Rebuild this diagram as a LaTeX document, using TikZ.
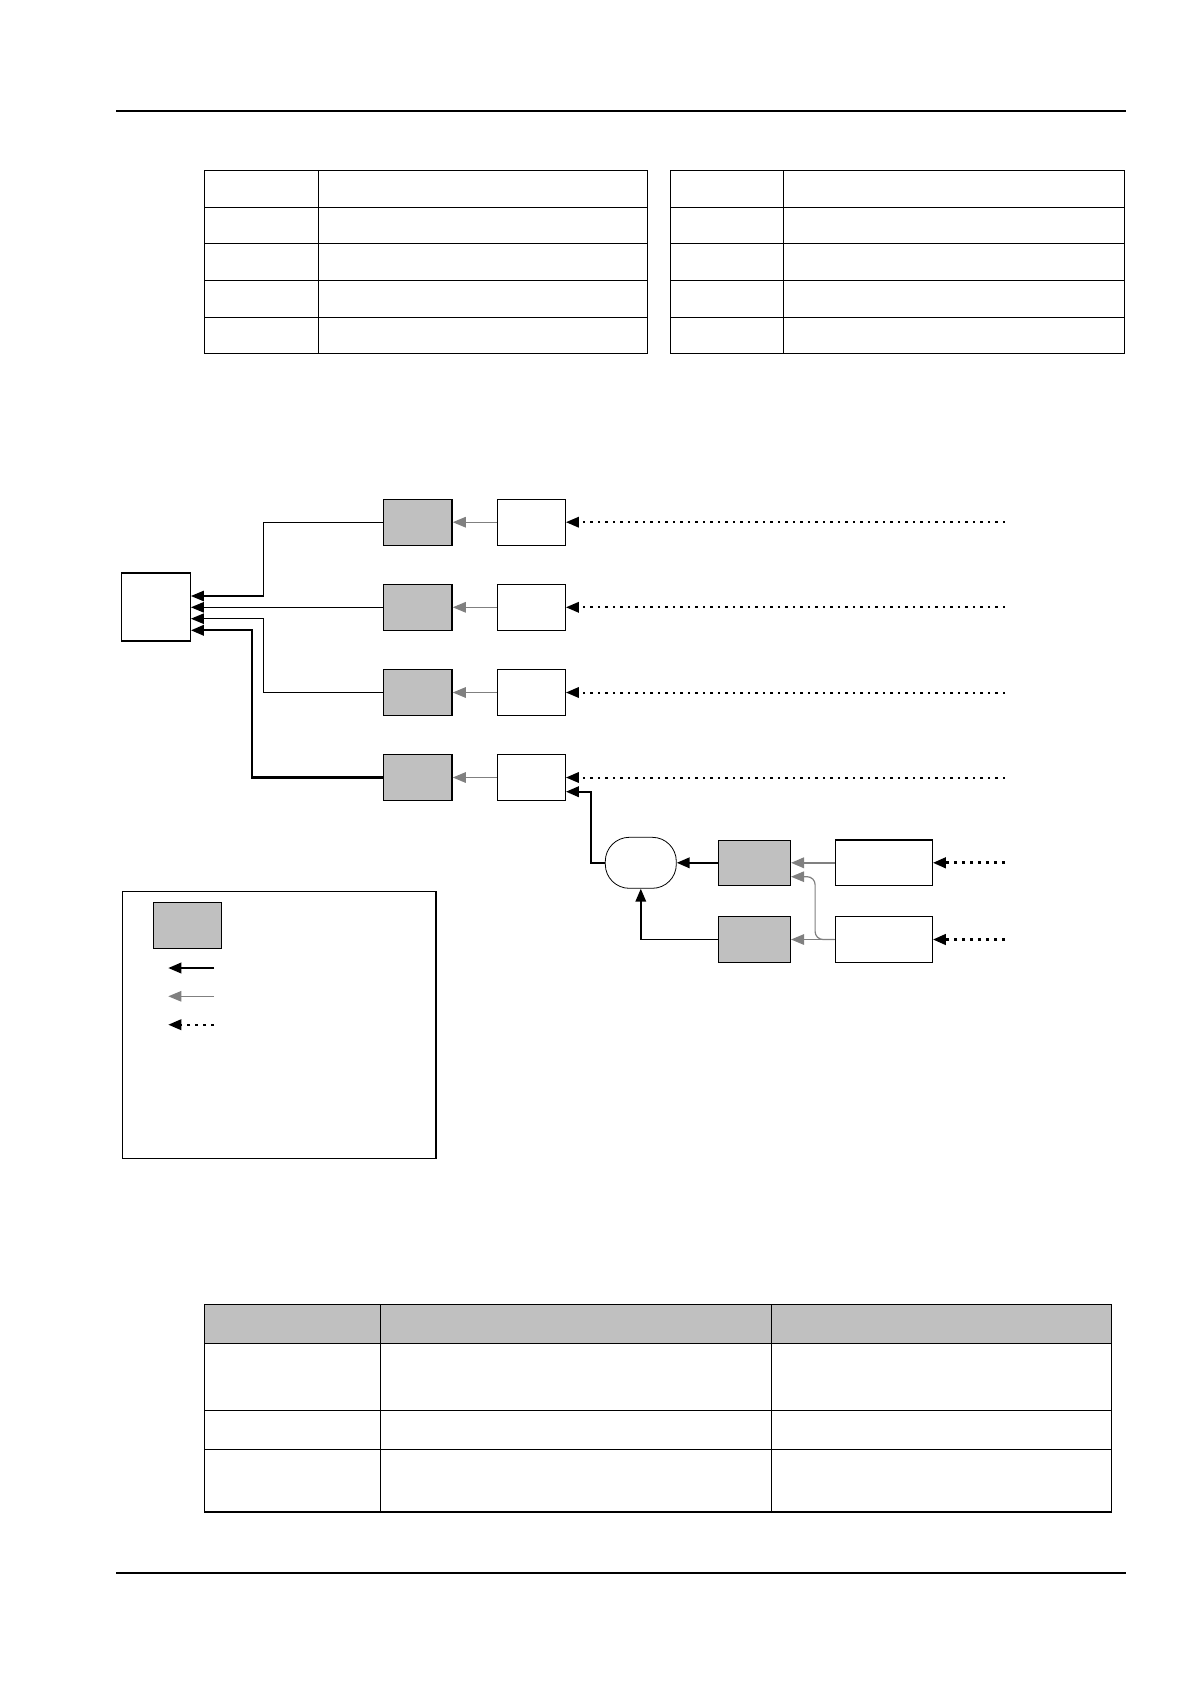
\documentclass[tikz,border=0pt]{standalone}
\usetikzlibrary{arrows.meta}
\definecolor{boxgray}{HTML}{C0C0C0}
\definecolor{arrgray}{HTML}{808080}
\begin{document}
\begin{tikzpicture}[x=1pt,y=-1pt,
  gbox/.style={draw=black,fill=boxgray,line width=1.4pt,minimum width=68.7pt,minimum height=46pt,inner sep=0pt},
  wbox/.style={draw=black,fill=white,line width=1.3pt,minimum width=68pt,minimum height=46pt,inner sep=0pt},
  wwide/.style={draw=black,fill=white,line width=1.2pt,minimum width=97pt,minimum height=45.5pt,inner sep=0pt},
  tip/.style={-{Triangle[length=13pt,width=10.5pt]}},
  blk/.style={tip,draw=black,line width=1.2pt},
  blkthick/.style={tip,draw=black,line width=2.2pt},
  gry/.style={-{Triangle[length=13pt,width=10.5pt]},draw=arrgray,color=arrgray,line width=1.2pt},
  dots/.style={tip,draw=black,line width=2pt,dash pattern=on 2.5pt off 5pt},
  bigdots/.style={tip,draw=black,line width=2.8pt,dash pattern=on 3.5pt off 4.5pt},
  tline/.style={draw=black,line width=1.1pt},
  rule/.style={draw=black,line width=2pt}]
\useasboundingbox (0,0) rectangle (1190,1684);

% header / footer rules
\draw[rule] (116,110.7) -- (1126,110.7);
\draw[rule] (116,1572.7) -- (1126,1572.7);

% top tables
\draw[tline] (204.3,170.3) rectangle (647.3,353.3);
\draw[tline] (318.3,170.3) -- (318.3,353.3);
\foreach \yy in {207.3,243.7,280.3,317.3} \draw[tline] (204.3,\yy) -- (647.3,\yy);
\draw[tline] (670.3,170.3) rectangle (1124.7,353.3);
\draw[tline] (783.3,170.3) -- (783.3,353.3);
\foreach \yy in {207.3,243.7,280.3,317.3} \draw[tline] (670.3,\yy) -- (1124.7,\yy);

% main diagram nodes
\node[draw=black,line width=1.3pt,minimum width=69pt,minimum height=68pt,inner sep=0pt] (M) at (155.8,607) {};
\node[gbox] (G1) at (417.7,522.2) {};
\node[gbox] (G2) at (417.7,607.3) {};
\node[gbox] (G3) at (417.7,692.5) {};
\node[gbox] (G4) at (417.7,777.5) {};
\node[wbox] (W1) at (531.3,522.2) {};
\node[wbox] (W2) at (531.3,607.3) {};
\node[wbox] (W3) at (531.3,692.5) {};
\node[wbox] (W4) at (531.3,777.5) {};
\node[draw=black,line width=0.8pt,rounded corners=24pt,minimum width=71pt,minimum height=51pt,inner sep=0pt] (E) at (640.8,862.8) {};
\node[gbox,minimum width=71.6pt,minimum height=45pt] (G5) at (754.5,862.8) {};
\node[gbox,minimum width=71.6pt,minimum height=45.6pt] (G6) at (754.5,939.5) {};
\node[wwide] (W5) at (883.8,862.8) {};
\node[wwide] (W6) at (883.8,939.5) {};

\coordinate (d1) at (1005,522.2);
\coordinate (d2) at (1005,607.3);
\coordinate (d3) at (1005,692.5);
\coordinate (d4) at (1005,777.5);
\coordinate (d5) at (1005,862.8);
\coordinate (d6) at (1005,939.5);

% connectors to main box
\draw[blk] (G1.west) -- ++(-119,0) |- ([yshift=11pt]M.east);
\draw[blk] (G2.west) -- (G2.west -| M.east);
\draw[blk] (G3.west) -- ++(-119,0) |- ([yshift=-11.7pt]M.east);
\draw[blkthick] (G4.west) -- ++(-130.6,0) |- ([yshift=-23.3pt]M.east);

% gray arrows
\draw[gry] (W1.west) -- (G1.east);
\draw[gry] (W2.west) -- (G2.east);
\draw[gry] (W3.west) -- (G3.east);
\draw[gry] (W4.west) -- (G4.east);
\draw[gry,line width=2pt] (W5.west) -- (G5.east);
\draw[gry] (W6.west) -- (G6.east);
\draw[gry,rounded corners=8pt] (W6.west) -- ++(-19.6,0) |- ([yshift=-13.9pt]G5.east);

% dotted arrows
\draw[dots] (d1) -- (W1.east);
\draw[dots] (d2) -- (W2.east);
\draw[dots] (d3) -- (W3.east);
\draw[dots] (d4) -- (W4.east);
\draw[bigdots] (d5) -- (W5.east);
\draw[bigdots] (d6) -- (W6.east);

% lower branch
\draw[blkthick] (E.west) -- ++(-14.3,0) |- ([yshift=-14.2pt]W4.east);
\draw[blkthick] (G5.west) -- (E.east);
\draw[blk,line width=1.8pt] (G6.west) -| (E.south);

% legend
\draw[draw=black,line width=1.5pt] (122.7,891.3) rectangle (436,1158.3);
\node[draw=black,fill=boxgray,line width=1pt,minimum width=68pt,minimum height=46pt,inner sep=0pt] (L0) at (187.3,925.3) {};
\coordinate (l1a) at (214,968); \coordinate (l1b) at (168.3,968);
\coordinate (l2a) at (214,996.3); \coordinate (l2b) at (168.3,996.3);
\coordinate (l3a) at (214,1024.7); \coordinate (l3b) at (168.3,1024.7);
\draw[blk,line width=2pt] (l1a) -- (l1b);
\draw[gry] (l2a) -- (l2b);
\draw[tip,draw=black,line width=2pt,dash pattern=on 3pt off 5pt] (l3a) -- (l3b);

% bottom table
\fill[boxgray] (204.3,1304.3) rectangle (1111.3,1343.3);
\draw[tline] (204.3,1304.3) rectangle (1111.3,1512);
\draw[tline] (380.3,1304.3) -- (380.3,1512);
\draw[tline] (771.3,1304.3) -- (771.3,1512);
\foreach \yy in {1343.3,1410.3,1449.3} \draw[tline] (204.3,\yy) -- (1111.3,\yy);
\end{tikzpicture}
\end{document}
